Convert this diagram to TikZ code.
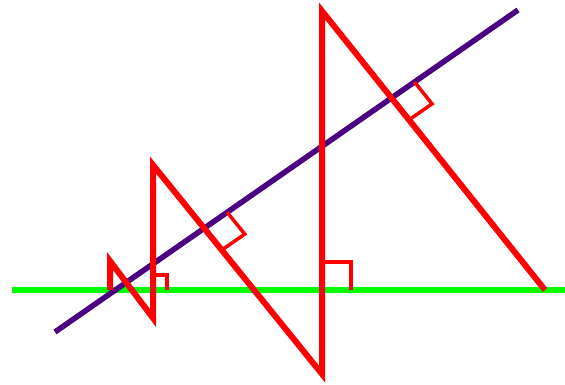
\documentclass[tikz,border=0pt]{standalone}
\usetikzlibrary{calc}
\definecolor{slantindigo}{RGB}{75,0,130}
\begin{document}
\begin{tikzpicture}[x=1pt,y=-1pt,
  baseline/.style={draw=green,line width=6pt},
  slantline/.style={draw=slantindigo,line width=5.5pt},
  zigzag/.style={draw=red,line width=6pt,line join=miter},
  rightmark/.style={draw=red,line width=3.5pt}]
\useasboundingbox (0,0) rectangle (565,385);
\coordinate (g1) at (12,290);
\coordinate (g2) at (565,290);
\coordinate (s1) at (55,332);
\coordinate (s2) at (518,10);
\coordinate (z0) at (545,290);
\coordinate (z1) at (322,11);
\coordinate (z2) at (322,374);
\coordinate (z3) at (153,165);
\coordinate (z4) at (153,318);
\coordinate (z5) at (110,261);
\coordinate (z6) at (110,290);
% feet of the perpendiculars
\coordinate (f1) at (intersection of z0--z1 and s1--s2);
\coordinate (f2) at (322,290);
\coordinate (f3) at (intersection of z2--z3 and s1--s2);
\coordinate (f4) at (153,290);
\draw[baseline] (g1) -- (g2);
\draw[slantline] (s1) -- (s2);
\draw[zigzag] (z0) -- (z1) -- (z2) -- (z3) -- (z4) -- (z5) -- (z6);
% right angle marks
\coordinate (m1a) at ($(f1)!28pt!(s2)$);
\coordinate (m1b) at ($(f1)!28pt!(z0)$);
\draw[rightmark] (m1a) -- ($(m1a)+(m1b)-(f1)$) -- (m1b);
\coordinate (m2a) at ($(f2)!29pt!(g2)$);
\coordinate (m2b) at ($(f2)!28pt!(z1)$);
\draw[rightmark] (m2a) -- ($(m2a)+(m2b)-(f2)$) -- (m2b);
\coordinate (m3a) at ($(f3)!28pt!(s2)$);
\coordinate (m3b) at ($(f3)!28pt!(z2)$);
\draw[rightmark] (m3a) -- ($(m3a)+(m3b)-(f3)$) -- (m3b);
\coordinate (m4a) at ($(f4)!14pt!(g2)$);
\coordinate (m4b) at ($(f4)!15pt!(z3)$);
\draw[rightmark] (m4a) -- ($(m4a)+(m4b)-(f4)$) -- (m4b);
\end{tikzpicture}
\end{document}
